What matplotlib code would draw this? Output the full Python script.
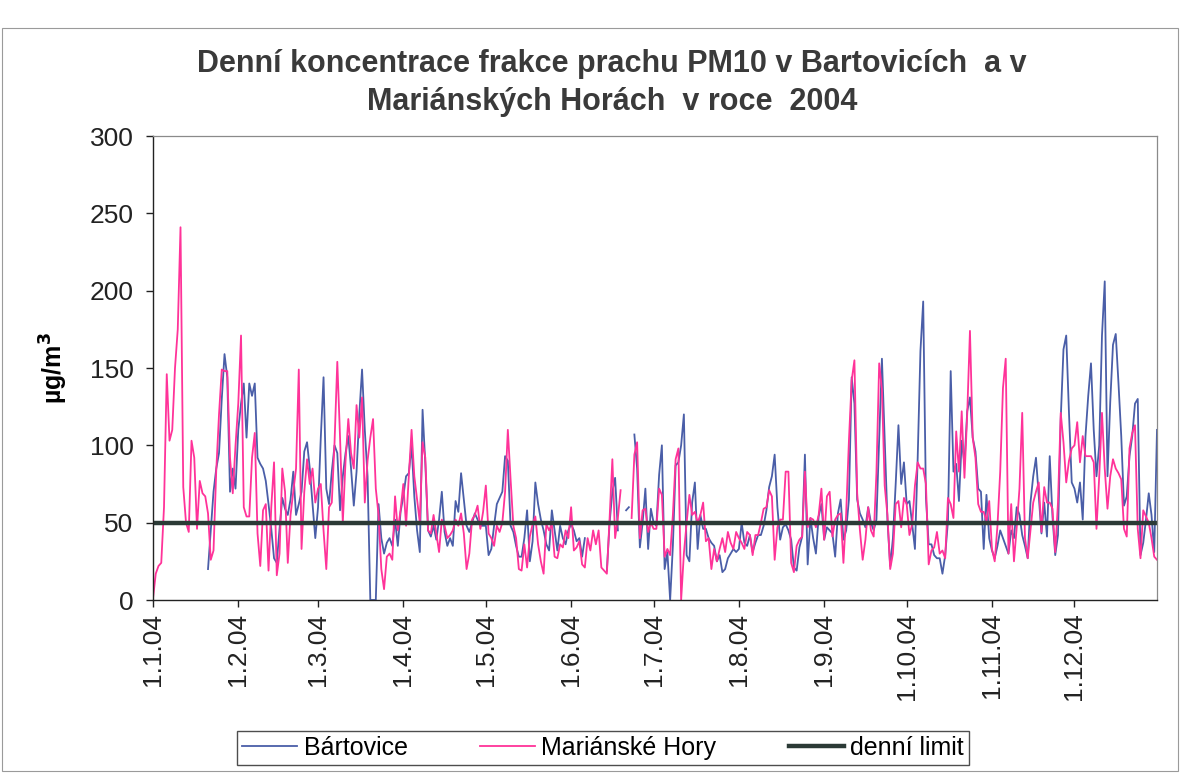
import numpy as np
import matplotlib
matplotlib.use("Agg")
import matplotlib.pyplot as plt
from matplotlib.patches import Rectangle

nan = np.nan

month_ticks = [0, 31, 60, 91, 121, 152, 182, 213, 244, 274, 305, 335]
month_labels = ["1.1.04", "1.2.04", "1.3.04", "1.4.04", "1.5.04", "1.6.04",
                "1.7.04", "1.8.04", "1.9.04", "1.10.04", "1.11.04", "1.12.04"]
y_ticks = [0, 50, 100, 150, 200, 250, 300]

marianske_hory = [
    1, 17, 22, 24, 60, 146, 103, 110, 150, 175,
    241, 73, 50, 44, 103, 92, 46, 77, 69, 67,
    56, 26, 32, 84, 120, 149, 148, 148, 92, 69,
    100, 127, 171, 60, 54, 54, 92, 108, 43, 22,
    58, 62, 19, 60, 89, 16, 30, 85, 70, 24,
    55, 70, 85, 149, 33, 70, 91, 75, 85, 63,
    72, 75, 45, 20, 60, 63, 102, 154, 105, 50,
    90, 117, 95, 85, 126, 105, 131, 63, 90, 105,
    117, 72, 55, 20, 7, 28, 30, 26, 67, 45,
    58, 75, 48, 80, 110, 80, 65, 50, 102, 92,
    45, 43, 55, 43, 31, 52, 48, 40, 42, 45,
    52, 48, 56, 43, 20, 30, 52, 55, 61, 46,
    57, 74, 43, 40, 35, 48, 44, 50, 70, 110,
    78, 48, 40, 20, 19, 36, 21, 41, 49, 54,
    36, 25, 17, 49, 45, 49, 28, 27, 36, 34,
    45, 40, 60, 32, 34, 38, 23, 21, 40, 32,
    45, 36, 45, 21, 19, 17, 53, 91, 40, 53,
    71, nan, nan, nan, 53, 94, 102, 40, 58, 59,
    44, 50, 46, 46, 72, 68, 28, 33, 29, 55,
    91, 98, 0, 30, 50, 68, 55, 57, 50, 55,
    63, 38, 40, 20, 33, 25, 33, 40, 31, 44,
    37, 33, 44, 40, 37, 33, 44, 42, 29, 42,
    42, 50, 59, 60, 71, 67, 26, 47, 52, 52,
    83, 83, 24, 18, 35, 39, 41, 83, 47, 53,
    52, 47, 55, 72, 39, 67, 70, 41, 52, 55,
    56, 24, 56, 103, 142, 155, 69, 45, 26, 39,
    60, 45, 41, 82, 153, 136, 74, 55, 20, 30,
    62, 64, 47, 66, 62, 42, 49, 74, 89, 85,
    85, 75, 23, 32, 34, 44, 30, 32, 27, 66,
    62, 53, 109, 83, 122, 79, 120, 174, 105, 92,
    62, 57, 57, 51, 64, 33, 25, 48, 83, 137,
    156, 30, 62, 25, 47, 72, 121, 40, 27, 45,
    63, 70, 76, 44, 73, 63, 63, 59, 31, 63,
    121, 102, 76, 90, 98, 100, 115, 89, 106, 93,
    93, 93, 89, 46, 80, 121, 85, 59, 80, 91,
    85, 82, 78, 46, 41, 98, 108, 113, 46, 27,
    58, 54, 50, 40, 28, 26,
]

bartovice = [
    nan, nan, nan, nan, nan, nan, nan, nan, nan, nan,
    nan, nan, nan, nan, nan, nan, nan, nan, nan, nan,
    20, 45, 70, 85, 95, 130, 159, 144, 70, 85,
    72, 110, 127, 140, 105, 140, 132, 140, 92, 88,
    85, 77, 62, 46, 27, 24, 46, 66, 59, 55,
    65, 83, 55, 62, 70, 96, 102, 85, 62, 40,
    60, 105, 144, 72, 62, 83, 100, 95, 58, 80,
    95, 106, 85, 61, 83, 120, 149, 110, 80, 0,
    0, 0, 62, 40, 30, 37, 40, 35, 52, 35,
    57, 67, 80, 82, 100, 67, 45, 31, 123, 88,
    45, 41, 48, 39, 52, 70, 44, 35, 40, 35,
    64, 57, 82, 65, 48, 44, 50, 56, 52, 48,
    48, 48, 29, 33, 48, 62, 66, 70, 93, 90,
    48, 44, 35, 28, 28, 40, 58, 25, 38, 76,
    62, 52, 45, 36, 32, 58, 45, 32, 48, 40,
    36, 45, 49, 45, 38, 40, 28, 40, nan, nan,
    nan, nan, nan, nan, nan, 19, 50, 70, 79, 45,
    nan, nan, 58, 60, nan, 107, 85, 34, 50, 72,
    33, 59, 50, 48, 81, 100, 20, 31, 0, 35,
    87, 89, 100, 120, 29, 25, 63, 76, 33, 55,
    46, 46, 40, 37, 35, 25, 29, 18, 20, 27,
    30, 33, 31, 33, 50, 37, 35, 42, 31, 37,
    42, 42, 48, 58, 73, 80, 94, 60, 39, 47,
    49, 45, 39, 21, 19, 34, 41, 94, 23, 53,
    40, 30, 54, 62, 39, 47, 45, 43, 28, 56,
    65, 39, 45, 65, 144, 127, 65, 56, 52, 47,
    60, 50, 45, 52, 103, 156, 104, 52, 22, 40,
    75, 113, 75, 89, 62, 64, 49, 33, 92, 161,
    193, 66, 36, 36, 29, 27, 27, 17, 29, 51,
    148, 83, 88, 64, 103, 88, 122, 131, 105, 96,
    72, 70, 33, 68, 40, 32, 27, 35, 45, 40,
    35, 30, 45, 40, 60, 55, 42, 35, 27, 63,
    80, 92, 67, 43, 63, 41, 93, 54, 29, 42,
    117, 162, 171, 121, 76, 72, 63, 76, 52, 106,
    132, 153, 110, 80, 100, 171, 206, 80, 128, 165,
    172, 140, 106, 61, 67, 93, 106, 127, 130, 29,
    37, 52, 69, 55, 31, 110,
]

denni_limit_value = 50
days = np.arange(len(marianske_hory))
denni_limit = np.full(len(days), denni_limit_value)

plt.rcParams['font.family'] = ['Liberation Sans', 'DejaVu Sans']

W, H = 1183, 774
fig = plt.figure(figsize=(W / 100, H / 100), dpi=100)
fig.patches.append(Rectangle((0.002, 0.004), 0.994, 0.96, transform=fig.transFigure,
                             fill=False, edgecolor='#9a9a9a', lw=0.8))

ax = fig.add_axes([153 / W, 1 - 600 / H, (1157 - 153) / W, (600 - 136) / H])
ax.plot(days, bartovice, color='#4a5ea8', lw=1.3, label='Bártovice')
ax.plot(days, marianske_hory, color='#ff3399', lw=1.3, label='Mariánské Hory')
ax.plot(days, denni_limit, color='#2b3a36', lw=3.2, label='denní limit')

ax.set_xlim(0, 365)
ax.set_ylim(0, 300)
ax.set_yticks(y_ticks)
ax.set_xticks(month_ticks)
ax.set_xticklabels(month_labels, rotation=90)
ax.tick_params(axis='both', direction='out', length=5, width=1, colors='#222222')
ax.tick_params(axis='y', labelsize=19, pad=9)
ax.tick_params(axis='x', labelsize=19, pad=4)
for s in ['left', 'bottom']:
    ax.spines[s].set_color('#222222')
    ax.spines[s].set_linewidth(1.0)
for s in ['top', 'right']:
    ax.spines[s].set_color('#8a8a8a')
    ax.spines[s].set_linewidth(0.9)

ax.set_ylabel('µg/m$^\\mathbf{3}$', fontsize=18, fontweight='bold', labelpad=14)

fig.text(612 / W, 1 - 64 / H, 'Denní koncentrace frakce prachu PM10 v Bartovicích  a v',
         ha='center', va='center', fontsize=22, fontweight='bold', color='#3a3a3a')
fig.text(612 / W, 1 - 102 / H, 'Mariánských Horách  v roce  2004',
         ha='center', va='center', fontsize=22, fontweight='bold', color='#3a3a3a')

leg = fig.legend(loc='center', bbox_to_anchor=(603 / W, 1 - 748 / H), ncol=3,
                 fontsize=18, frameon=True, fancybox=False, edgecolor='#222222',
                 handlelength=2.2, columnspacing=2.9, handletextpad=0.25,
                 borderpad=0.2)
leg.get_frame().set_linewidth(1.0)

fig.savefig('out.png', dpi=100)
